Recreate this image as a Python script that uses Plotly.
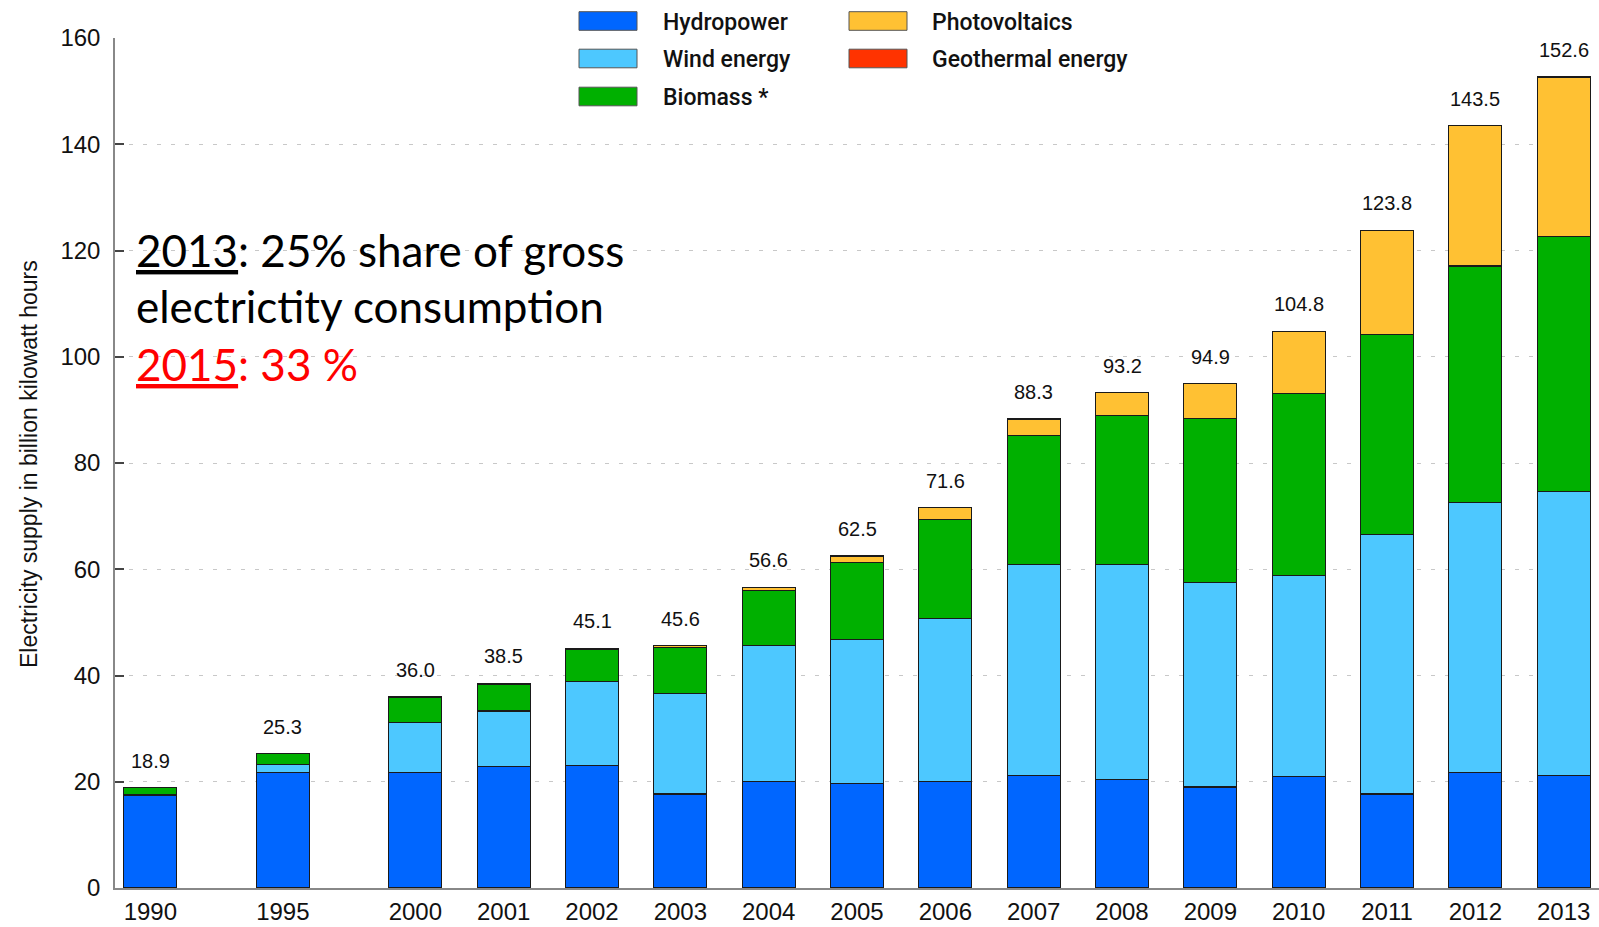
import plotly.graph_objects as go

# ---------------- data (billion kWh) ----------------
years = ["1990", "1995", "2000", "2001", "2002", "2003", "2004", "2005",
         "2006", "2007", "2008", "2009", "2010", "2011", "2012", "2013"]
hydropower = [17.4, 21.8, 21.7, 22.8, 23.1, 17.7, 20.1, 19.6,
              20.0, 21.2, 20.4, 19.0, 21.0, 17.7, 21.8, 21.2]
wind_energy = [0.1, 1.5, 9.5, 10.5, 15.8, 18.9, 25.5, 27.2,
               30.7, 39.7, 40.5, 38.5, 37.8, 48.9, 50.7, 53.4]
biomass = [1.4, 2.0, 4.7, 5.1, 6.0, 8.7, 10.4, 14.4,
           18.7, 24.3, 28.0, 30.9, 34.3, 37.6, 44.6, 48.0]
photovoltaics = [0.001, 0.007, 0.06, 0.1, 0.2, 0.3, 0.6, 1.3,
                 2.2, 3.1, 4.3, 6.5, 11.7, 19.6, 26.4, 30.0]
geothermal = [0.0, 0.0, 0.0, 0.0, 0.0, 0.0, 0.0002, 0.0002,
              0.0004, 0.0004, 0.018, 0.019, 0.028, 0.019, 0.025, 0.08]
totals = [18.9, 25.3, 36.0, 38.5, 45.1, 45.6, 56.6, 62.5,
          71.6, 88.3, 93.2, 94.9, 104.8, 123.8, 143.5, 152.6]

series_names = ["Hydropower", "Wind energy", "Biomass *", "Photovoltaics", "Geothermal energy"]
series_values = [hydropower, wind_energy, biomass, photovoltaics, geothermal]
colors = ["#0066FF", "#4DC8FF", "#00B000", "#FFC133", "#FF3300"]

# x positions: 5-year steps before 2000 get 1.5 slots
x_pos = [(int(y) - 2000) + 3 if int(y) >= 2000 else (int(y) - 1990) * 0.3 for y in years]

W, H = 1599, 927
ML, MR, MT, MB = 115, 0, 38, 39
PW, PH = W - ML - MR, H - MT - MB


def px(x):
    return (x - ML) / PW


def py(y):
    return (H - MB - y) / PH


SANS = "Liberation Sans, Arial, sans-serif"

fig = go.Figure()
for name, vals, col in zip(series_names, series_values, colors):
    fig.add_trace(go.Bar(
        x=x_pos, y=vals, name=name, width=0.6,
        marker=dict(color=col, line=dict(color="#1a1a1a", width=1.2)),
        showlegend=False, hoverinfo="x+y+name",
    ))

annotations = []
for xp, t in zip(x_pos, totals):
    annotations.append(dict(
        x=xp, y=t, xref="x", yref="y", text=f"{t:.1f}", showarrow=False,
        yanchor="bottom", xanchor="center", yshift=14,
        font=dict(family=SANS, size=20, color="#111"),
    ))

# legend (manual, 2 columns)
shapes = []
leg_cols = [(579, 637, 661), (849, 907, 930)]
leg_rows = [21, 58.5, 96.5]
leg_items = [(0, 0), (0, 1), (0, 2), (1, 0), (1, 1)]
for (ci, ri), name, col in zip(leg_items, series_names, colors):
    x0, x1, tx = leg_cols[ci]
    yc = leg_rows[ri]
    shapes.append(dict(type="rect", xref="paper", yref="paper",
                       x0=px(x0), x1=px(x1), y0=py(yc + 9.3), y1=py(yc - 9.3),
                       fillcolor=col, line=dict(color="#555", width=1)))
    annotations.append(dict(x=px(tx), y=py(yc + 1), xref="paper", yref="paper",
                            text=name, showarrow=False, xanchor="left", yanchor="middle",
                            font=dict(family="Roboto", size=23, color="#111", weight=500)))

# big text
big_font = dict(family="Lato, Carlito, Calibri, sans-serif", size=44, color="#000")
annotations.append(dict(x=px(134), y=py(250), xref="paper", yref="paper",
                        text="<u>2013</u>: 25% share of gross", showarrow=False,
                        xanchor="left", yanchor="middle", font=big_font))
annotations.append(dict(x=px(134), y=py(306), xref="paper", yref="paper",
                        text="electrictity consumption", showarrow=False,
                        xanchor="left", yanchor="middle", font=big_font))
annotations.append(dict(x=px(134), y=py(364), xref="paper", yref="paper",
                        text="<u>2015</u>: 33 %", showarrow=False,
                        xanchor="left", yanchor="middle",
                        font=dict(big_font, color="#FF0000")))

# y-axis title
annotations.append(dict(x=px(29), y=py(464), xref="paper", yref="paper",
                        text="Electricity supply in billion kilowatt hours",
                        textangle=-90, showarrow=False, xanchor="center", yanchor="middle",
                        font=dict(family=SANS, size=23, color="#111")))

fig.update_layout(
    width=W, height=H,
    margin=dict(l=ML, r=MR, t=MT, b=MB),
    paper_bgcolor="white", plot_bgcolor="white",
    barmode="stack",
    annotations=annotations, shapes=shapes,
    xaxis=dict(range=[-0.4, 16.4], tickvals=x_pos, ticktext=years,
               showline=True, linecolor="#888", linewidth=1.5, ticks="",
               showgrid=False, zeroline=False, ticklabelstandoff=1,
               tickfont=dict(family=SANS, size=24, color="#111")),
    yaxis=dict(range=[0, 160], tickvals=list(range(0, 161, 20)),
               showline=True, linecolor="#888", linewidth=1.5,
               ticks="inside", ticklen=9, tickcolor="#444", tickwidth=1.5,
               showgrid=True, gridcolor="#c8c8c8", griddash="4px,10px", gridwidth=1,
               zeroline=False, ticklabelstandoff=8,
               tickfont=dict(family=SANS, size=24, color="#111")),
)

fig.write_html("out.html")
